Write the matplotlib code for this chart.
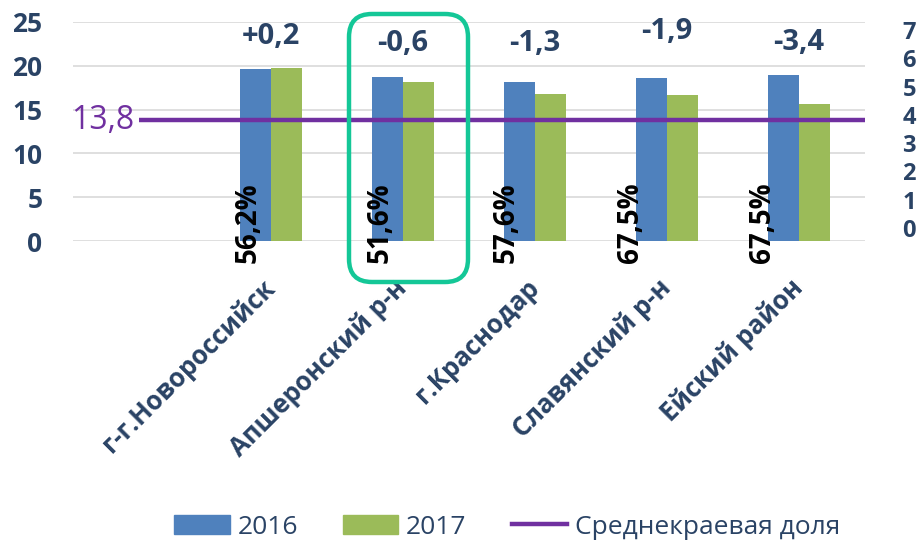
import numpy as np
import matplotlib
matplotlib.use("Agg")
import matplotlib.pyplot as plt
from matplotlib.patches import Patch, FancyBboxPatch
from matplotlib.lines import Line2D

plt.rcParams['font.family'] = ['Open Sans', 'DejaVu Sans']

# ---- data ----
categories = ['', 'г-г.Новороссийск', 'Апшеронский р-н', 'г.Краснодар',
              'Славянский р-н', 'Ейский район']
values_2016 = [np.nan, 19.6, 18.7, 18.1, 18.6, 19.0]
values_2017 = [np.nan, 19.8, 18.1, 16.8, 16.7, 15.6]
change_labels = ['', '+0,2', '-0,6', '-1,3', '-1,9', '-3,4']
pct_labels = ['', '56,2%', '51,6%', '57,6%', '67,5%', '67,5%']
avg_share = 13.8
avg_label = '13,8'
left_ticks = [0, 5, 10, 15, 20, 25]
right_ticks = [0, 1, 2, 3, 4, 5, 6, 7]
series_names = ['2016', '2017', 'Среднекраевая доля']

# ---- styles / positions ----
navy = '#2A4365'
blue = '#4F81BD'
green = '#9BBB59'
purple = '#7030A0'
grid_c = '#D9D9D9'
box_c = '#14C797'
change_y = [0, 23.3, 22.6, 22.6, 23.9, 22.7]
pct_dx = [0, -0.175, -0.175, -0.22, -0.28, -0.275]

fig = plt.figure(figsize=(9.17, 5.45), dpi=100)
ax = fig.add_axes([73/917, 1-241/545, 792/917, 219/545])

x = np.arange(len(categories))
w = 0.235
ax.bar(x - w/2, values_2016, width=w, color=blue, zorder=3)
ax.bar(x + w/2, values_2017, width=w, color=green, zorder=3)

ax.set_xlim(-0.5, len(categories) - 0.5)
ax.set_ylim(0, 25)
ax.set_yticks(left_ticks)
ax.yaxis.grid(True, color=grid_c, linewidth=1.2, zorder=0)
ax.set_axisbelow(True)
for s in ax.spines.values():
    s.set_visible(False)
ax.tick_params(axis='y', length=0, pad=22, labelsize=19, labelcolor=navy)
for t in ax.get_yticklabels():
    t.set_fontweight('bold')

ax.set_xticks(x)
ax.set_xticklabels(categories, rotation=45, ha='right', va='center',
                   rotation_mode='anchor', fontsize=18.5, fontweight='bold',
                   color=navy)
ax.tick_params(axis='x', length=0, pad=31)

# average line
ax.hlines(avg_share, x[0], ax.get_xlim()[1], color=purple, linewidth=3.2, zorder=4)
ax.text(x[0] - 0.04, avg_share, avg_label, color=purple, fontsize=23,
        ha='right', va='center')

# change labels and percentage labels
for i in range(1, len(categories)):
    ax.text(x[i], change_y[i], change_labels[i], ha='center', va='center',
            fontsize=21, color=navy, fontweight='bold', clip_on=False)
    ax.text(x[i] + pct_dx[i], -2.5, pct_labels[i], rotation=90, ha='center',
            va='bottom', fontsize=20, fontweight='bold', color='black',
            zorder=5, clip_on=False)

# right axis
ax2 = ax.twinx()
ax2.set_ylim(-0.46, 7.28)
ax2.set_yticks(right_ticks)
for s in ax2.spines.values():
    s.set_visible(False)
ax2.tick_params(axis='y', length=0, pad=27, labelsize=17, labelcolor=navy)
for t in ax2.get_yticklabels():
    t.set_fontweight('bold')

# highlight box
box = FancyBboxPatch((349/917, 1-282/545), 119/917, 268/545,
                     boxstyle='round,pad=0,rounding_size=0.025',
                     transform=fig.transFigure, fill=False,
                     edgecolor=box_c, linewidth=3.2, zorder=10,
                     mutation_aspect=917/545)
fig.patches.append(box)

# legend
handles = [Patch(color=blue), Patch(color=green),
           Line2D([0], [0], color=purple, linewidth=3.2)]
leg = fig.legend(handles, series_names, loc='center', ncol=3,
                 bbox_to_anchor=(0.553, 0.033), frameon=False, fontsize=19,
                 handlelength=2.1, handleheight=0.7, handletextpad=0.3,
                 columnspacing=1.7)
for t in leg.get_texts():
    t.set_color(navy)

fig.savefig('out.png', dpi=100)
